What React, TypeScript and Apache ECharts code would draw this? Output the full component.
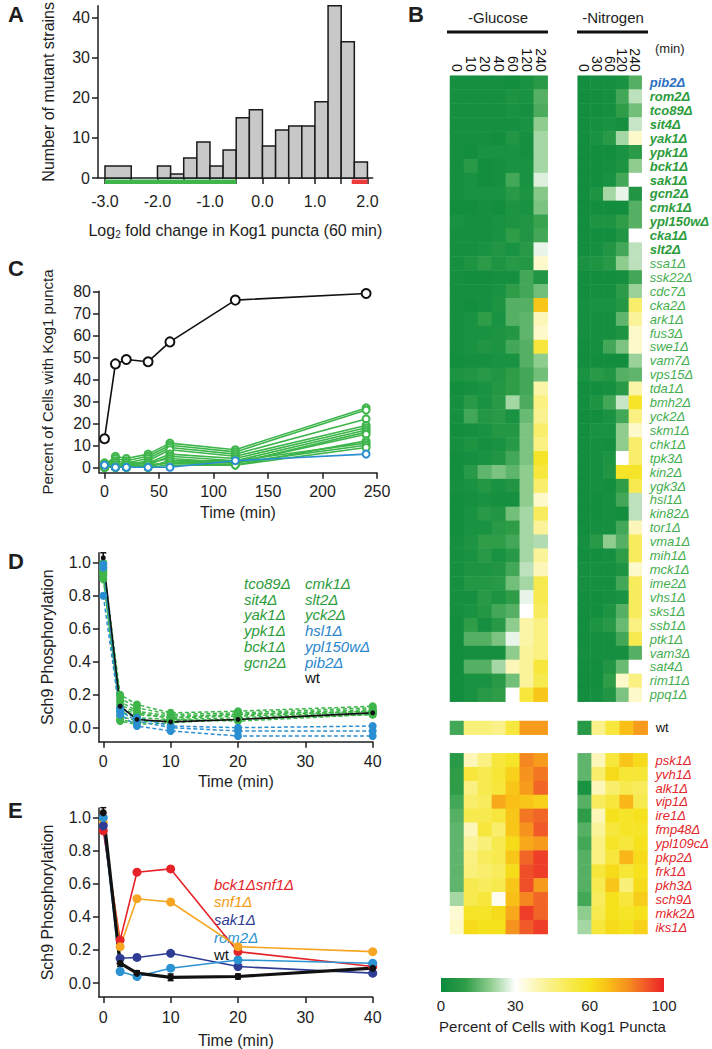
import React, { useEffect, useRef } from "react";
import * as echarts from "echarts";

const FONT = '"Liberation Sans", Arial, Helvetica, sans-serif';
const INK = "#1e1e1e";
const GREEN = "#3db54a";
const BLUE = "#2a8fd2";

// ---------- Panel A: histogram ----------
const histStart = [-3.0, -2.0, -1.75, -1.5, -1.25, -1.0, -0.75, -0.5, -0.25, 0, 0.25, 0.5, 0.75, 1.0, 1.25, 1.5, 1.75];
const histEnd = [-2.5, -1.75, -1.5, -1.25, -1.0, -0.75, -0.5, -0.25, 0, 0.25, 0.5, 0.75, 1.0, 1.25, 1.5, 1.75, 2.0];
const histCount = [3, 3, 1, 5, 9, 3, 7, 15, 17, 8, 12, 13, 13, 19, 43, 34, 4];
const histTicks = [-3, -2.5, -2, -1.5, -1, -0.5, 0, 0.5, 1, 1.5, 2];
const histLabels = [-3, -2, -1, 0, 1, 2];
const histYTicks = [0, 10, 20, 30, 40];
const lowRange = [-3.0, -0.5];
const highRange = [1.7, 2.0];

// ---------- Panel C ----------
const cTimes = [0, 10, 20, 40, 60, 120, 240];
const cWt = [13, 47, 49, 48, 57, 76, 79];
const cPib2 = [1, 0, 0, 0, 0, 3, 6];
const cG1 = [1, 5, 4, 6, 11, 8, 27];
const cG2 = [0, 4, 3, 5, 10, 7, 26];
const cG3 = [2, 3, 2, 4, 9, 6, 22];
const cG4 = [0, 2, 1, 3, 8, 5, 19];
const cG5 = [1, 1, 2, 2, 6, 4, 18];
const cG6 = [0, 0, 0, 1, 5, 3, 17];
const cG7 = [1, 2, 1, 2, 4, 2, 16];
const cG8 = [0, 1, 0, 0, 3, 2, 15];
const cG9 = [1, 0, 1, 1, 2, 1, 12];
const cG10 = [0, 1, 0, 0, 3, 3, 11];
const cG11 = [1, 0, 0, 1, 2, 2, 10];
const cG12 = [0, 0, 0, 0, 1, 1, 9];
const cXTicks = [0, 50, 100, 150, 200, 250];
const cYTicks = [0, 10, 20, 30, 40, 50, 60, 70, 80];

// ---------- Panel D ----------
const dTimes = [0, 2.5, 5, 10, 20, 40];
const dTco89 = [1.0, 0.2, 0.14, 0.09, 0.1, 0.13];
const dSit4 = [0.97, 0.18, 0.12, 0.08, 0.09, 0.12];
const dYak1 = [0.95, 0.16, 0.1, 0.07, 0.08, 0.11];
const dYpk1 = [0.93, 0.12, 0.08, 0.06, 0.07, 0.1];
const dBck1 = [0.9, 0.1, 0.06, 0.05, 0.06, 0.1];
const dGcn2 = [0.98, 0.07, 0.04, 0.04, 0.05, 0.09];
const dCmk1 = [0.92, 0.05, 0.03, 0.05, 0.04, 0.08];
const dSlt2 = [0.96, 0.04, 0.02, 0.03, 0.05, 0.08];
const dYck2 = [0.94, 0.14, 0.09, 0.06, 0.08, 0.1];
const dHsl1 = [0.99, 0.12, 0.06, 0.01, 0.0, 0.01];
const dYpl150w = [0.97, 0.1, 0.04, 0.0, -0.02, -0.02];
const dPib2 = [0.8, 0.08, 0.01, -0.02, -0.05, -0.05];
const dWt = [1.03, 0.13, 0.05, 0.035, 0.05, 0.09];
const dWtErr = [0.03, 0.01, 0.01, 0.01, 0.01, 0.01];
const deXTicks = [0, 10, 20, 30, 40];
const deYTicks = [0, 0.2, 0.4, 0.6, 0.8, 1.0];

// ---------- Panel E ----------
const eBck1Snf1 = [0.92, 0.26, 0.67, 0.69, 0.19, 0.1];
const eSnf1 = [0.97, 0.22, 0.51, 0.49, 0.22, 0.19];
const eSak1 = [0.95, 0.15, 0.155, 0.18, 0.1, 0.06];
const eRom2 = [1.0, 0.07, 0.04, 0.09, 0.14, 0.12];
const eWt = [1.03, 0.12, 0.06, 0.035, 0.04, 0.09];
const eWtErr = [0.03, 0.02, 0.015, 0.02, 0.015, 0.01];

// ---------- Panel B: heatmap ----------
const glucoseCols = ["0", "10", "20", "40", "60", "120", "240"];
const nitrogenCols = ["0", "30", "60", "120", "240"];
const mainGenes = ["pib2", "rom2", "tco89", "sit4", "yak1", "ypk1", "bck1", "sak1", "gcn2", "cmk1", "ypl150w", "cka1", "slt2",
  "ssa1", "ssk22", "cdc7", "cka2", "ark1", "fus3", "swe1", "vam7", "vps15", "tda1", "bmh2", "yck2", "skm1", "chk1", "tpk3",
  "kin2", "ygk3", "hsl1", "kin82", "tor1", "vma1", "mih1", "mck1", "ime2", "vhs1", "sks1", "ssb1", "ptk1", "vam3", "sat4",
  "rim11", "ppq1"];
const bottomGenes = ["psk1", "yvh1", "alk1", "vip1", "ire1", "fmp48", "ypl109c", "pkp2", "frk1", "pkh3", "sch9", "mkk2", "iks1"];
const wtGenes = ["wt"];

const glucoseMain = [
  [3, 3, 3, 3, 2, 4, 8], [3, 3, 3, 3, 5, 4, 14], [3, 3, 3, 3, 4, 3, 13], [3, 3, 3, 3, 3, 4, 20], [3, 3, 3, 2, 6, 3, 22],
  [3, 2, 4, 4, 4, 3, 22], [3, 8, 2, 3, 4, 4, 22], [3, 4, 2, 3, 12, 4, 27], [3, 4, 4, 4, 8, 5, 19], [2, 2, 3, 2, 5, 4, 18],
  [4, 3, 3, 4, 5, 6, 11], [3, 3, 3, 4, 10, 6, 12], [3, 3, 4, 6, 4, 8, 28], [3, 5, 9, 5, 8, 7, 36], [3, 2, 2, 3, 3, 12, 6],
  [3, 3, 3, 4, 10, 12, 17], [3, 2, 3, 5, 14, 14, 68], [3, 4, 10, 4, 14, 15, 38], [3, 4, 4, 5, 7, 15, 36], [3, 4, 6, 5, 12, 14, 55],
  [2, 3, 3, 4, 4, 14, 20], [5, 6, 8, 6, 10, 12, 17], [2, 3, 4, 7, 10, 12, 40], [3, 8, 4, 8, 22, 13, 45], [3, 12, 7, 8, 4, 16, 43],
  [2, 3, 4, 7, 7, 18, 48], [3, 5, 3, 4, 8, 18, 45], [2, 3, 4, 6, 12, 18, 58], [2, 8, 15, 18, 15, 20, 55], [3, 4, 7, 4, 6, 20, 48],
  [2, 3, 4, 3, 3, 20, 36], [2, 4, 8, 6, 17, 22, 50], [2, 4, 4, 8, 10, 22, 42], [3, 5, 10, 10, 12, 22, 23], [3, 4, 8, 4, 8, 22, 42],
  [3, 5, 5, 6, 12, 24, 38], [3, 7, 7, 8, 17, 22, 52], [3, 3, 8, 5, 10, 28, 52], [3, 4, 7, 12, 14, 30, 50], [2, 10, 3, 8, 20, 40, 45],
  [2, 14, 14, 18, 28, 40, 45], [2, 3, 3, 3, 20, 42, 45], [2, 14, 14, 22, 38, 42, 55], [2, 4, 4, 8, 17, 42, 52], [2, 4, 8, 10, 30, 55, 68],
];
const nitrogenMain = [
  [2, 3, 3, 4, 14], [2, 2, 3, 12, 24], [2, 2, 3, 10, 17], [2, 3, 4, 3, 25], [2, 4, 8, 22, 36],
  [2, 2, 2, 4, 9], [2, 2, 3, 5, 20], [2, 2, 4, 12, 30], [2, 5, 22, 28, 6], [2, 2, 2, 2, 14],
  [2, 5, 5, 10, 14], [2, 2, 2, 6, 30], [2, 3, 6, 12, 24], [4, 5, 8, 20, 24], [2, 2, 2, 3, 12],
  [2, 3, 3, 9, 21], [3, 4, 4, 7, 48], [3, 3, 3, 15, 42], [3, 3, 3, 5, 36], [2, 3, 12, 18, 36],
  [2, 2, 2, 2, 21], [4, 8, 6, 14, 15], [2, 2, 3, 8, 40], [2, 5, 12, 25, 58], [2, 2, 4, 12, 45],
  [2, 4, 4, 20, 36], [2, 3, 2, 20, 48], [2, 3, 5, 30, 48], [2, 3, 6, 58, 58], [2, 3, 2, 10, 52],
  [2, 2, 3, 12, 24], [2, 2, 3, 2, 24], [2, 3, 3, 12, 38], [3, 8, 20, 14, 50], [2, 2, 3, 10, 50],
  [3, 3, 3, 5, 36], [3, 3, 3, 12, 50], [2, 2, 3, 4, 50], [2, 2, 5, 14, 50], [2, 5, 8, 16, 45],
  [2, 3, 3, 12, 52], [3, 3, 3, 3, 14], [2, 2, 6, 16, 30], [2, 2, 10, 36, 45], [2, 3, 6, 18, 36],
];
const glucoseWt = [[12, 46, 46, 44, 55, 78, 78]];
const nitrogenWt = [[8, 44, 55, 70, 78]];
const glucoseBottom = [
  [8, 38, 45, 55, 58, 82, 78], [10, 55, 52, 56, 65, 80, 85], [10, 45, 52, 55, 68, 78, 88], [12, 48, 50, 75, 70, 68, 65],
  [14, 52, 52, 55, 68, 85, 88], [15, 38, 55, 48, 68, 80, 90], [15, 42, 46, 52, 62, 75, 78], [15, 45, 50, 52, 68, 88, 95],
  [15, 46, 48, 50, 62, 92, 95], [15, 52, 50, 52, 68, 92, 78], [22, 52, 55, 32, 70, 82, 88], [35, 58, 58, 62, 75, 95, 88],
  [36, 62, 60, 60, 80, 90, 95],
];
const nitrogenBottom = [
  [15, 38, 55, 68, 62], [15, 48, 62, 56, 56], [4, 38, 48, 52, 50], [14, 50, 55, 72, 52], [10, 38, 60, 58, 60],
  [14, 42, 55, 58, 58], [12, 45, 58, 55, 60], [14, 45, 55, 72, 62], [14, 55, 62, 56, 60], [14, 52, 68, 46, 62],
  [12, 50, 60, 55, 66], [20, 52, 60, 58, 60], [22, 55, 62, 60, 65],
];
// colour at values 0,10,...,100
const heatValues = [0, 10, 20, 30, 40, 50, 60, 70, 80, 90, 100];
const heatColors = ["#0b8a3c", "#2f9d48", "#8fcd8f", "#ffffff", "#fbf5a8", "#f8ec5c", "#f5e21c", "#f9bf17", "#f6921e", "#f05a28", "#ec2227"];
// colour bar: labelled values, drawn at equal thirds of the bar
const colorbarLabels = [0, 30, 60, 100];

// ---------- helpers ----------
const lineAxis = { show: true, onZero: false, lineStyle: { color: INK, width: 1.5 } };
const tickStyle = { color: INK, width: 1.5 };
const labelStyle = { fontSize: 16, color: INK, fontFamily: FONT };

function valueAxis(gridIndex: number, min: number, max: number, ticks: number[], labels: number[], extra: any = {}) {
  const fmt = extra.fmt || ((v: number) => String(v));
  return {
    type: "value", gridIndex, min, max,
    axisLine: lineAxis,
    axisTick: { show: true, customValues: ticks, length: 6, lineStyle: tickStyle },
    axisLabel: { ...labelStyle, customValues: labels, margin: extra.margin ?? 8, formatter: fmt },
    splitLine: { show: false },
    name: extra.name, nameLocation: "middle", nameGap: extra.nameGap,
    nameTextStyle: { fontSize: extra.nameSize ?? 16, color: INK, fontFamily: FONT, rich: extra.rich },
  };
}

const toXY = (xs: number[], ys: number[]) => xs.map((x, i) => [x, ys[i]]);
const toErr = (xs: number[], ys: number[], es: number[]) => xs.map((x, i) => [x, ys[i], es[i]]);

function heatData(rows: number[][]) {
  const out: number[][] = [];
  rows.forEach((r, i) => r.forEach((v, j) => out.push([j, i, v])));
  return out;
}

// position (0..1) of a value on the colour bar whose labelled values sit at equal thirds
function barPos(v: number) {
  const n = colorbarLabels.length - 1;
  for (let k = 0; k < n; k++) {
    const a = colorbarLabels[k], b = colorbarLabels[k + 1];
    if (v <= b) return (k + (v - a) / (b - a)) / n;
  }
  return 1;
}

const errBarRender = (params: any, api: any) => {
  const x = api.value(0), y = api.value(1), e = api.value(2);
  const top = api.coord([x, y + e]);
  const bot = api.coord([x, y - e]);
  const hw = 3;
  const st = { stroke: "#111", lineWidth: 1.5 };
  return {
    type: "group",
    children: [
      { type: "line", shape: { x1: top[0], y1: top[1], x2: bot[0], y2: bot[1] }, style: st },
      { type: "line", shape: { x1: top[0] - hw, y1: top[1], x2: top[0] + hw, y2: top[1] }, style: st },
      { type: "line", shape: { x1: bot[0] - hw, y1: bot[1], x2: bot[0] + hw, y2: bot[1] }, style: st },
    ],
  };
};

function buildOption() {
  const grids = [
    { left: 98, top: 3.85, width: 274.7, height: 174.15 }, // 0 A
    { left: 99, top: 291.3, width: 278, height: 181.4 }, // 1 C
    { left: 98.9, top: 552.8, width: 273.8, height: 188.9 }, // 2 D
    { left: 98.9, top: 808, width: 273.8, height: 190.3 }, // 3 E
    { left: 450, top: 75.7, width: 97.7, height: 626 }, // 4 glucose main
    { left: 577.7, top: 75.7, width: 70, height: 626 }, // 5 nitrogen main
    { left: 450, top: 721, width: 97.7, height: 13.7 }, // 6 glucose wt
    { left: 577.7, top: 721, width: 70, height: 13.7 }, // 7 nitrogen wt
    { left: 450, top: 753.3, width: 97.7, height: 180.7 }, // 8 glucose bottom
    { left: 577.7, top: 753.3, width: 70, height: 180.7 }, // 9 nitrogen bottom
    { left: 441, top: 978, width: 223, height: 14 }, // 10 colour bar
  ];

  const geneRich: any = {
    bb: { fontFamily: FONT, fontStyle: "italic", fontWeight: "bold", fontSize: 13, color: "#2e6fc0" },
    bg: { fontFamily: FONT, fontStyle: "italic", fontWeight: "bold", fontSize: 13, color: "#2d9c3c" },
    ng: { fontFamily: FONT, fontStyle: "italic", fontSize: 13, color: "#44ae4f" },
    nr: { fontFamily: FONT, fontStyle: "italic", fontSize: 13, color: "#e3262b" },
    nk: { fontFamily: FONT, fontSize: 13, color: "#111" },
  };
  const catY = (gridIndex: number, data: string[], showLabels: boolean, styleOf?: (i: number) => string) => ({
    type: "category", gridIndex, data, inverse: true, position: "right",
    axisLine: { show: false }, axisTick: { show: false }, splitLine: { show: false },
    axisLabel: showLabels
      ? {
          show: true, interval: 0, margin: 8, rich: geneRich,
          formatter: (v: string, i: number) => {
            const s = styleOf!(i);
            return s === "nk" ? `{nk|${v}}` : `{${s}|${v}Δ}`;
          },
        }
      : { show: false },
  });
  const catX = (gridIndex: number, data: string[], showLabels: boolean) => ({
    type: "category", gridIndex, data, position: "top",
    axisLine: { show: false }, axisTick: { show: false }, splitLine: { show: false },
    axisLabel: showLabels
      ? { show: true, interval: 0, rotate: 90, margin: 4, fontSize: 14, color: "#111", fontFamily: FONT }
      : { show: false },
  });

  const barTicks = colorbarLabels.map((_, i) => i);
  const xAxes = [
    valueAxis(0, -3.133, 2.1, histTicks, histLabels, {
      fmt: (v: number) => v.toFixed(1), margin: 15, nameGap: 44,
      name: "Log{sub|2} fold change in Kog1 puncta (60 min)",
      rich: { sub: { fontSize: 10, verticalAlign: "bottom", padding: [7, 0, 0, 0], fontFamily: FONT, color: INK } },
    }),
    valueAxis(1, -5.05, 250, cXTicks, cXTicks, { margin: 11, nameGap: 32, name: "Time (min)" }),
    valueAxis(2, -0.65, 40, deXTicks, deXTicks, { margin: 12, nameGap: 32, name: "Time (min)" }),
    valueAxis(3, -0.65, 40, deXTicks, deXTicks, { margin: 12, nameGap: 35, name: "Time (min)" }),
    catX(4, glucoseCols, true),
    catX(5, nitrogenCols, true),
    catX(6, glucoseCols, false),
    catX(7, nitrogenCols, false),
    catX(8, glucoseCols, false),
    catX(9, nitrogenCols, false),
    {
      type: "value", gridIndex: 10, min: 0, max: barTicks.length - 1, position: "bottom",
      axisLine: { show: false }, axisTick: { show: false }, splitLine: { show: false },
      axisLabel: {
        ...labelStyle, fontSize: 15, customValues: barTicks, margin: 6,
        formatter: (v: number) => String(colorbarLabels[Math.round(v)]),
      },
      name: "Percent of Cells with Kog1 Puncta", nameLocation: "middle", nameGap: 27,
      nameTextStyle: { fontSize: 15, color: INK, fontFamily: FONT },
    },
  ];
  const yAxes = [
    valueAxis(0, 0, 43, histYTicks, histYTicks, { nameGap: 42, name: "Number of mutant strains" }),
    valueAxis(1, -2.45, 80, cYTicks, cYTicks, { nameGap: 44, nameSize: 15, name: "Percent of Cells with Kog1 puncta" }),
    valueAxis(2, -0.085, 1.06, deYTicks, deYTicks, { fmt: (v: number) => v.toFixed(1), nameGap: 43, name: "Sch9 Phosphorylation" }),
    valueAxis(3, -0.084, 1.058, deYTicks, deYTicks, { fmt: (v: number) => v.toFixed(1), nameGap: 43, name: "Sch9 Phosphorylation" }),
    catY(4, mainGenes, false),
    catY(5, mainGenes, true, (i) => (i === 0 ? "bb" : i < 13 ? "bg" : "ng")),
    catY(6, wtGenes, false),
    catY(7, wtGenes, true, () => "nk"),
    catY(8, bottomGenes, false),
    catY(9, bottomGenes, true, () => "nr"),
    { type: "value", gridIndex: 10, min: 0, max: 1, show: false },
  ];

  const series: any[] = [];

  // A histogram
  series.push({
    type: "custom", xAxisIndex: 0, yAxisIndex: 0, coordinateSystem: "cartesian2d",
    encode: { x: [0, 1], y: 2 },
    data: histStart.map((s, i) => [s, histEnd[i], histCount[i]]),
    renderItem: (params: any, api: any) => {
      const p0 = api.coord([api.value(0), api.value(2)]);
      const p1 = api.coord([api.value(1), 0]);
      return {
        type: "rect",
        shape: { x: p0[0], y: p0[1], width: p1[0] - p0[0], height: p1[1] - p0[1] },
        style: { fill: "#c8c8c8", stroke: "#1a1a1a", lineWidth: 1.5 },
      };
    },
  });
  const rangeBar = (range: number[], color: string) => ({
    type: "custom", xAxisIndex: 0, yAxisIndex: 0, coordinateSystem: "cartesian2d", clip: false,
    encode: { x: [0, 1] },
    data: [[range[0], range[1]]],
    renderItem: (params: any, api: any) => {
      const a = api.coord([api.value(0), 0]);
      const b = api.coord([api.value(1), 0]);
      return { type: "rect", shape: { x: a[0], y: a[1] + 1.5, width: b[0] - a[0], height: 4.5 }, style: { fill: color } };
    },
    z: 1,
  });
  series.push(rangeBar(lowRange, "#3fb54b"), rangeBar(highRange, "#ee3a3a"));

  // C
  const cGreens = [cG1, cG2, cG3, cG4, cG5, cG6, cG7, cG8, cG9, cG10, cG11, cG12];
  const cLine = (ys: number[], color: string, size = 7) => ({
    type: "line", xAxisIndex: 1, yAxisIndex: 1, data: toXY(cTimes, ys),
    symbol: "emptyCircle", symbolSize: size, showAllSymbol: true,
    lineStyle: { color, width: 1.6 }, itemStyle: { color, borderWidth: 1.5 },
    emphasis: { disabled: true }, clip: false,
  });
  cGreens.forEach((g) => series.push(cLine(g, GREEN)));
  series.push(cLine(cPib2, BLUE));
  series.push(cLine(cWt, "#111", 9));

  // D
  const dLine = (ys: number[], color: string) => ({
    type: "line", xAxisIndex: 2, yAxisIndex: 2, data: toXY(dTimes, ys),
    symbol: "circle", symbolSize: 8, lineStyle: { color, width: 1.5, type: [4, 2.5] }, itemStyle: { color },
    emphasis: { disabled: true }, clip: false,
  });
  [dTco89, dSit4, dYak1, dYpk1, dBck1, dGcn2, dCmk1, dSlt2, dYck2].forEach((d) => series.push(dLine(d, GREEN)));
  [dHsl1, dYpl150w, dPib2].forEach((d) => series.push(dLine(d, BLUE)));
  series.push({
    type: "line", xAxisIndex: 2, yAxisIndex: 2, data: toXY(dTimes, dWt),
    symbol: "circle", symbolSize: 5, lineStyle: { color: "#111", width: 1.6 }, itemStyle: { color: "#111" },
    emphasis: { disabled: true }, clip: false,
  });
  series.push({
    type: "custom", xAxisIndex: 2, yAxisIndex: 2, coordinateSystem: "cartesian2d", clip: false,
    encode: { x: 0, y: 1 }, data: toErr(dTimes, dWt, dWtErr), renderItem: errBarRender,
  });

  // E
  const eLine = (ys: number[], color: string) => ({
    type: "line", xAxisIndex: 3, yAxisIndex: 3, data: toXY(dTimes, ys),
    symbol: "circle", symbolSize: 9, lineStyle: { color, width: 1.6 }, itemStyle: { color },
    emphasis: { disabled: true }, clip: false,
  });
  series.push(eLine(eBck1Snf1, "#e52329"), eLine(eSnf1, "#f6a623"), eLine(eSak1, "#2f3c95"), eLine(eRom2, "#2b93d1"));
  series.push({
    type: "line", xAxisIndex: 3, yAxisIndex: 3, data: toXY(dTimes, eWt),
    symbol: "circle", symbolSize: 7, lineStyle: { color: "#111", width: 3.2 }, itemStyle: { color: "#111" },
    emphasis: { disabled: true }, clip: false,
  });
  series.push({
    type: "custom", xAxisIndex: 3, yAxisIndex: 3, coordinateSystem: "cartesian2d", clip: false,
    encode: { x: 0, y: 1 }, data: toErr(dTimes, eWt, eWtErr), renderItem: errBarRender,
  });

  // B heatmaps
  const heatIdx: number[] = [];
  const heat = (gi: number, rows: number[][]) => {
    heatIdx.push(series.length);
    series.push({
      type: "heatmap", xAxisIndex: gi, yAxisIndex: gi, data: heatData(rows),
      emphasis: { disabled: true }, itemStyle: { borderWidth: 0 }, progressive: 0,
    });
  };
  heat(4, glucoseMain);
  heat(5, nitrogenMain);
  heat(6, glucoseWt);
  heat(7, nitrogenWt);
  heat(8, glucoseBottom);
  heat(9, nitrogenBottom);

  // colour bar
  const stops = heatValues.map((v, i) => ({ offset: barPos(v), color: heatColors[i] }));
  series.push({
    type: "custom", xAxisIndex: 10, yAxisIndex: 10, coordinateSystem: "cartesian2d",
    encode: { x: [0, 1] }, data: [[0, barTicks.length - 1]],
    renderItem: (params: any, api: any) => {
      const a = api.coord([api.value(0), 1]);
      const b = api.coord([api.value(1), 0]);
      return {
        type: "rect",
        shape: { x: a[0], y: a[1], width: b[0] - a[0], height: b[1] - a[1] },
        style: { fill: new echarts.graphic.LinearGradient(0, 0, 1, 0, stops) },
      };
    },
  });

  const txt = (text: string, x: number, y: number, style: any = {}) => ({
    type: "text", x, y,
    style: { text, fontFamily: FONT, fontSize: 15, fill: INK, verticalAlign: "middle", align: "left", ...style },
  });
  const it = (text: string, x: number, y: number, fill: string) => txt(text, x, y, { fontStyle: "italic", fill });
  const dLegendCol1 = ["tco89Δ", "sit4Δ", "yak1Δ", "ypk1Δ", "bck1Δ", "gcn2Δ"];
  const dLegendCol2 = [["cmk1Δ", "#2d9c3c"], ["slt2Δ", "#2d9c3c"], ["yck2Δ", "#2d9c3c"], ["hsl1Δ", "#2a86cc"], ["ypl150wΔ", "#2a86cc"], ["pib2Δ", "#2a86cc"], ["wt", "#111"]];
  const eLegend = [["bck1Δsnf1Δ", "#e52329"], ["snf1Δ", "#f39c12"], ["sak1Δ", "#2f3c95"], ["rom2Δ", "#2b93d1"], ["wt", "#111"]];

  const graphic: any[] = [
    txt("A", 8, 14, { fontSize: 22, fontWeight: "bold" }),
    txt("B", 408, 14, { fontSize: 22, fontWeight: "bold" }),
    txt("C", 8, 268, { fontSize: 22, fontWeight: "bold" }),
    txt("D", 8, 561, { fontSize: 22, fontWeight: "bold" }),
    txt("E", 8, 810, { fontSize: 22, fontWeight: "bold" }),
    txt("-Glucose", 498, 17, { align: "center", fontSize: 15 }),
    txt("-Nitrogen", 613, 17, { align: "center", fontSize: 15 }),
    { type: "line", shape: { x1: 447, y1: 32, x2: 548, y2: 32 }, style: { stroke: "#111", lineWidth: 3 } },
    { type: "line", shape: { x1: 577, y1: 32, x2: 648, y2: 32 }, style: { stroke: "#111", lineWidth: 3 } },
    txt("(min)", 655, 48, { fontSize: 13 }),
  ];
  dLegendCol1.forEach((t, i) => graphic.push(it(t, 244, 583.5 + 15.7 * i, "#2d9c3c")));
  dLegendCol2.forEach(([t, c], i) =>
    graphic.push(t === "wt" ? txt(t, 305, 583.5 + 15.7 * i, { fill: c }) : it(t, 305, 583.5 + 15.7 * i, c))
  );
  eLegend.forEach(([t, c], i) => graphic.push(t === "wt" ? txt(t, 214, 884 + 17.7 * i, { fill: c }) : it(t, 214, 884 + 17.7 * i, c)));

  return {
    animation: false,
    backgroundColor: "#ffffff",
    textStyle: { fontFamily: FONT },
    grid: grids,
    xAxis: xAxes,
    yAxis: yAxes,
    visualMap: {
      type: "continuous", show: false, min: 0, max: 100,
      seriesIndex: heatIdx, inRange: { color: heatColors },
    },
    series,
    graphic,
  };
}

export default function App() {
  const ref = useRef<HTMLDivElement>(null);
  useEffect(() => {
    const chart = echarts.init(ref.current!, null, { renderer: "svg" });
    chart.setOption(buildOption() as any);
    return () => chart.dispose();
  }, []);
  return (
    <div
      ref={ref}
      style={{ position: "absolute", left: 0, top: 0, width: 712, height: 1049, background: "#fff" }}
    />
  );
}
